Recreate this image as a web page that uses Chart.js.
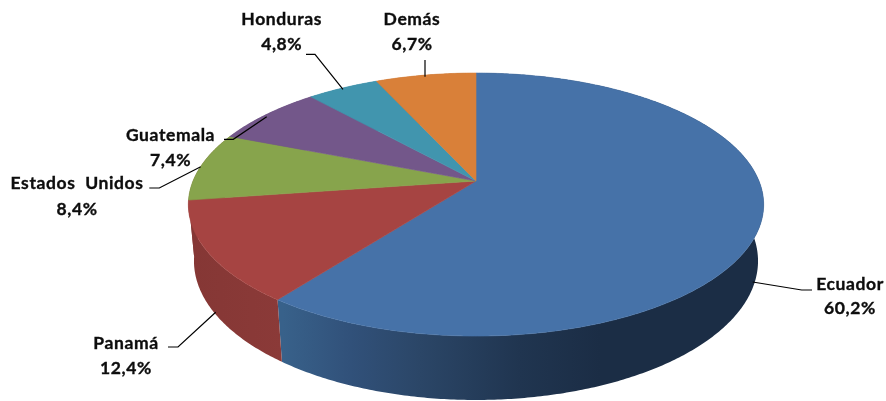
<!DOCTYPE html>
<html><head><meta charset="utf-8">
<script src="https://cdn.jsdelivr.net/npm/chart.js@4"></script>
<style>html,body{margin:0;padding:0;background:#fff}canvas{display:block}</style>
</head><body><canvas id="c" width="886" height="401"></canvas>
<script>
const categories = ["Ecuador","Panamá","Estados  Unidos","Guatemala","Honduras","Demás"];
const shares = [60.2,12.4,8.4,7.4,4.8,6.7];
const shareLabels = ["60,2%","12,4%","8,4%","7,4%","4,8%","6,7%"];

const faceColors = ["#4672A8","#A64442","#87A44C","#73578A","#4195AE","#D98039"];
const wallStops = [
  [[283,"#38618A"],[350,"#31517A"],[420,"#2B4667"],[520,"#203550"],[600,"#1B2D45"],[764,"#1B2D45"]],
  [[190,"#853735"],[283,"#8B3A38"]],
  [[0,"#853735"],[886,"#853735"]],
  [[0,"#5A4370"],[886,"#5A4370"]],
  [[0,"#31778C"],[886,"#31778C"]],
  [[0,"#AD652C"],[886,"#AD652C"]]
];
const labelLayout = [
  {x:850,y:284,y2:308,lead:[[752.7,282],[801.7,290],[812,290]]},
  {x:126,y:343,y2:368,lead:[[215.7,312.3],[178,347],[168,347]]},
  {x:77,y:183,y2:209,lead:[[200.7,166.7],[159.3,188],[149.3,188]]},
  {x:170.5,y:135,y2:160,lead:[[266.7,116.7],[233.3,139.3],[224,139.3]]},
  {x:281.7,y:19,y2:44,lead:[[343,89.3],[315,54.3],[306,54.3]]},
  {x:412,y:19,y2:44,lead:[[425,76.7],[425,60]]}
];

// Perspective view of the disc: top rim and bottom rim
const CX=476, CY=181, R=283, K=127.3, P=0.179, Q=0.0193, D=56.7;
function topPt(a){const u=Math.cos(a),v=Math.sin(a),w=1/(1-P*v);return [CX+R*u*w,CY+K*v*w];}
function botPt(a){const u=Math.cos(a),v=Math.sin(a),w=1/(1-P*v+Q);return [CX+R*u*w,CY+(K*v+D)*w];}

const pie3d = {
  id:'pie3d',
  beforeDatasetDraw(chart){
    const ctx=chart.ctx, arcs=chart.getDatasetMeta(0).data;
    ctx.save();
    const steps=a=>Math.max(2,Math.ceil(a/0.01));
    // walls
    arcs.forEach((arc,i)=>{
      const s=arc.startAngle,e=arc.endAngle,n=steps(e-s);
      const g=ctx.createLinearGradient(0,0,886,0);
      wallStops[i].forEach(st=>g.addColorStop(st[0]/886,st[1]));
      ctx.fillStyle=g;
      ctx.beginPath();
      for(let k=0;k<=n;k++){const p=topPt(s+(e-s)*k/n);k?ctx.lineTo(p[0],p[1]):ctx.moveTo(p[0],p[1]);}
      for(let k=n;k>=0;k--){const p=botPt(s+(e-s)*k/n);ctx.lineTo(p[0],p[1]);}
      ctx.closePath();ctx.fill();
    });
    // top faces
    arcs.forEach((arc,i)=>{
      const s=arc.startAngle,e=arc.endAngle,n=steps(e-s);
      ctx.beginPath();ctx.moveTo(CX,CY);
      for(let k=0;k<=n;k++){const p=topPt(s+(e-s)*k/n);ctx.lineTo(p[0],p[1]);}
      ctx.closePath();
      ctx.fillStyle=faceColors[i];ctx.strokeStyle=faceColors[i];ctx.lineWidth=0.6;
      ctx.fill();ctx.stroke();
    });
    ctx.restore();
    return false;
  },
  afterDatasetsDraw(chart){
    const ctx=chart.ctx;
    ctx.save();
    ctx.strokeStyle="#000";ctx.lineWidth=1.2;
    labelLayout.forEach(l=>{
      ctx.beginPath();
      l.lead.forEach((p,j)=>j?ctx.lineTo(p[0],p[1]):ctx.moveTo(p[0],p[1]));
      ctx.stroke();
    });
    ctx.fillStyle="#0d0d0d";ctx.strokeStyle="#0d0d0d";ctx.lineWidth=0.35;
    ctx.font="bold 17.5px Lato";
    ctx.letterSpacing="0.6px";
    ctx.textAlign="center";ctx.textBaseline="middle";
    categories.forEach((c,i)=>{
      const l=labelLayout[i];
      ctx.fillText(c,l.x,l.y);ctx.strokeText(c,l.x,l.y);
      ctx.fillText(shareLabels[i],l.x,l.y2);ctx.strokeText(shareLabels[i],l.x,l.y2);
    });
    ctx.restore();
  }
};

new Chart(document.getElementById('c'),{
  type:'pie',
  data:{labels:categories,datasets:[{data:shares,backgroundColor:faceColors,borderWidth:0}]},
  options:{responsive:false,animation:false,rotation:0,
    plugins:{legend:{display:false},tooltip:{enabled:false}}},
  plugins:[pie3d]
});
</script></body></html>
